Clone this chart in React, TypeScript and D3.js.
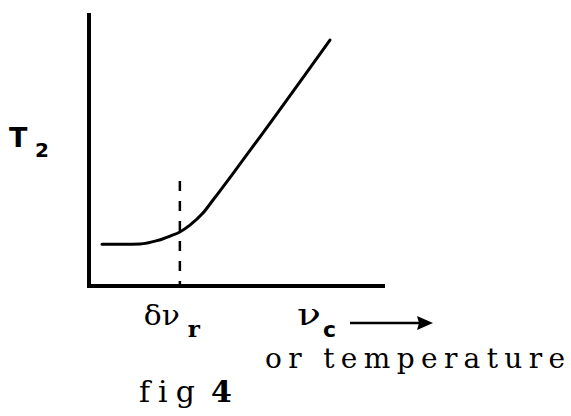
import React from "react";
import * as d3 from "d3";

// T2 curve, arbitrary units (x: nu_c or temperature, y: T2)
const curveX = [4.4, 12.2, 17.2, 23.0, 27.4, 30.7, 34.1, 38.5, 41.9, 50.0, 81.4];
const curveY = [15.3, 15.3, 15.4, 16.6, 18.3, 19.8, 22.3, 26.7, 31.5, 43.2, 90.1];

// the dashed marker at delta nu_r
const resonanceX = 30.7;
const resonanceTop = 38.5;

const width = 571;
const height = 416;

const App = () => {
  const x = d3.scaleLinear().domain([0, 100]).range([89, 385]);
  const y = d3.scaleLinear().domain([0, 100]).range([286, 13]);

  const pts: [number, number][] = curveX.map((v, i) => [v, curveY[i]]);
  const line = d3
    .line<[number, number]>()
    .x(d => x(d[0]))
    .y(d => y(d[1]))
    .curve(d3.curveMonotoneX);

  const serif = "'DejaVu Serif', serif";
  const sans = "'DejaVu Sans', sans-serif";
  const rx = x(resonanceX);
  const noLig = { fontVariantLigatures: "none" as const };

  return (
    <svg
      width={width}
      height={height}
      style={{ position: "absolute", left: 0, top: 0, background: "#fff" }}
    >
      {/* axes */}
      <line x1={x(0)} x2={x(0)} y1={y(100)} y2={y(0) + 2} stroke="#000" strokeWidth={4} />
      <line x1={x(0) - 2} x2={x(100)} y1={y(0)} y2={y(0)} stroke="#000" strokeWidth={4} />

      {/* dashed resonance line */}
      <line
        x1={rx}
        x2={rx}
        y1={y(resonanceTop)}
        y2={y(0)}
        stroke="#000"
        strokeWidth={2.5}
        strokeDasharray="10,10"
      />

      {/* curve */}
      <path d={line(pts) || ""} fill="none" stroke="#000" strokeWidth={3} strokeLinecap="round" />

      {/* y label */}
      <text x={9} y={147} fontFamily={sans} fontSize={27} fontWeight="bold">T</text>
      <text x={35} y={157} fontFamily={sans} fontSize={20} fontWeight="bold">2</text>

      {/* x labels */}
      <text x={rx - 36} y={325} fontFamily={serif} fontSize={28} textLength={36} lengthAdjust="spacingAndGlyphs">δν</text>
      <text x={rx + 8} y={337} fontFamily={serif} fontSize={23} fontWeight="bold">r</text>

      <text x={297} y={325} fontFamily={serif} fontSize={29} textLength={24} lengthAdjust="spacingAndGlyphs">ν</text>
      <text x={323} y={337} fontFamily={sans} fontSize={22} fontWeight="bold">c</text>
      <line x1={350} x2={421} y1={323} y2={323} stroke="#000" strokeWidth={2.5} />
      <path d="M433,323 L417,316 L419,323 L417,330 Z" fill="#000" />

      <text x={265} y={368} fontFamily={serif} fontSize={28} textLength={300} lengthAdjust="spacing" style={noLig}>
        or temperature
      </text>

      <text x={139} y={402} fontFamily={serif} fontSize={30} letterSpacing={8} style={noLig}>fig</text>
      <text x={211} y={402} fontFamily={serif} fontSize={30} fontWeight="bold">4</text>
    </svg>
  );
};

export default App;
